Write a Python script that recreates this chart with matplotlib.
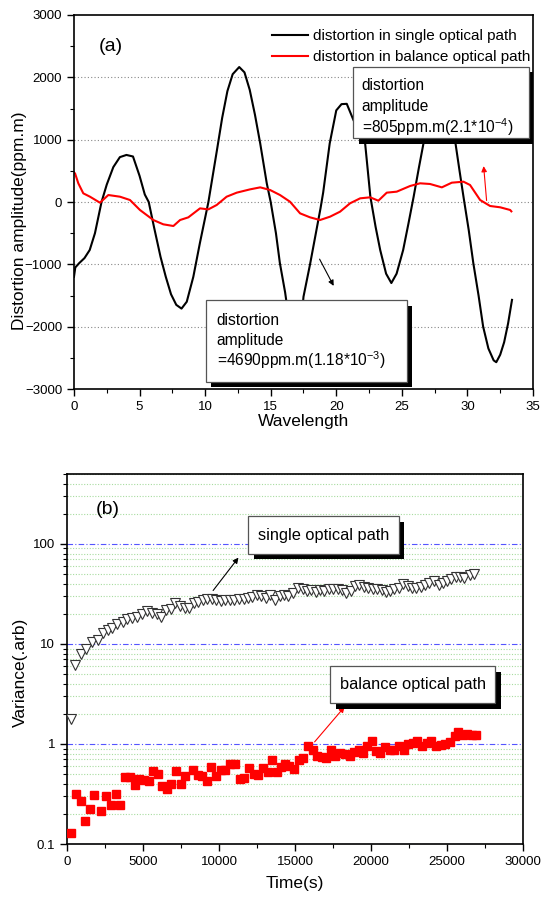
import numpy as np
import matplotlib
matplotlib.use("Agg")
import matplotlib.pyplot as plt
from matplotlib.patches import Rectangle
from matplotlib.ticker import MultipleLocator, LogLocator, NullFormatter, FixedLocator
import matplotlib.patheffects as pe

plt.rcParams['font.family'] = ['Liberation Sans', 'DejaVu Sans']
plt.rcParams['mathtext.fontset'] = 'custom'
plt.rcParams['mathtext.rm'] = 'Liberation Sans'

# ---- panel (a) data: distortion vs wavelength ----
single_x = [0.0, 0.1, 0.4, 0.8, 1.2, 1.6, 2.1, 2.5, 3.0, 3.5, 4.0, 4.5, 5.0, 5.4, 5.7,
            6.1, 6.6, 7.0, 7.4, 7.8, 8.2, 8.6, 9.1, 9.6, 10.25, 10.9, 11.3, 11.7, 12.1,
            12.6, 13.0, 13.4, 13.8, 14.2, 14.7, 15.0, 15.4, 15.7, 16.1, 16.5, 16.85,
            17.2, 17.5, 18.0, 18.8, 19.0, 19.5, 20.0, 20.4, 20.8, 21.3, 21.8, 22.2,
            22.6, 23.0, 23.35, 23.8, 24.2, 24.6, 25.1, 25.5, 25.9, 26.3, 26.65, 27.1,
            27.5, 27.85, 28.3, 28.7, 29.05, 29.4, 29.7, 30.1, 30.45, 30.85, 31.2, 31.6,
            32.0, 32.2, 32.5, 32.8, 33.1, 33.4]
single_y = [-1200, -1050, -980, -900, -770, -500, 0, 280, 560, 720, 755, 730, 420, 120, 0,
            -400, -880, -1200, -1480, -1650, -1710, -1600, -1200, -660, 0, 830, 1350, 1780, 2050,
            2165, 2080, 1800, 1400, 940, 300, 0, -500, -980, -1450, -2050, -2525,
            -2250, -1520, -1000, -100, 150, 940, 1470, 1570, 1575, 1320, 1100, 941,
            85, -400, -770, -1150, -1300, -1150, -770, -350, 85, 550, 940, 1250,
            1420, 1450, 1380, 1200, 1000, 500, 85, -450, -980, -1500, -2000, -2350,
            -2540, -2570, -2450, -2250, -1950, -1570]

balance_x = [0.0, 0.08, 0.33, 0.71, 1.22, 1.98, 2.62, 3.51, 4.27, 5.03, 6.05, 6.81, 7.58,
             8.09, 8.72, 9.61, 10.25, 10.88, 11.64, 12.41, 13.43, 14.2, 14.95, 15.71,
             16.47, 17.24, 18.0, 18.76, 19.53, 20.29, 21.05, 21.82, 22.58, 23.21, 23.85,
             24.61, 25.63, 26.39, 27.15, 28.05, 28.81, 29.7, 30.2, 30.97, 31.73, 32.5,
             33.26, 33.35]
balance_y = [470, 460, 300, 139, 85, -11, 112, 85, 32, -128, -289, -358, -385,
             -289, -246, -102, -118, -48, 85, 150, 203, 235, 193, 112,
             5, -182, -246, -289, -235, -155, -21, 59, 75, 21, 150,
             166, 257, 300, 289, 235, 310, 326, 273, 32, -64, -85,
             -128, -150]

# ---- panel (b) data: variance vs time ----
single_t = [254, 550, 900, 1250, 1660, 2010, 2350, 2680, 2970, 3320, 3670, 3970, 4290,
            4610, 4930, 5280, 5580, 5900, 6200, 6500, 6830, 7130, 7430, 7750, 8050, 8350,
            8620, 8920, 9220, 9550, 9820, 10120, 10420, 10700, 11000, 11300, 11620, 11900,
            12200, 12500, 12780, 13080, 13350, 13700, 14000, 14270, 14570, 14850, 15200,
            15500, 15770, 16070, 16350, 16650, 16930, 17250, 17530, 17800, 18080, 18360,
            18660, 18960, 19230, 19530, 19810, 20110, 20390, 20690, 20960, 21260, 21540,
            21840, 22110, 22410, 22690, 22990, 23270, 23570, 23840, 24140, 24440, 24720,
            25000, 25270, 25570, 25870, 26150, 26500, 26800]
single_var = [1.79, 6.2, 7.9, 8.8, 10.5, 10.9, 12.9, 13.8, 14.5, 15.8, 16.7, 17.7, 18.1,
              18.8, 20.0, 21.2, 20.4, 20.0, 18.8, 21.9, 22.3, 25.8, 24.2, 22.9, 22.9, 25.8,
              26.1, 27.8, 28.2, 28.4, 27.4, 26.7, 27.4, 27.4, 27.8, 28.2, 28.2, 28.9,
              29.6, 30.6, 30.1, 28.9, 30.6, 27.8, 30.1, 31.2, 30.1, 32.0, 36.6,
              35.2, 33.8, 34.7, 33.0, 34.7, 33.8, 35.8, 35.2, 35.8, 34.7, 32.5,
              33.8, 37.9, 38.6, 37.4, 36.6, 35.8, 35.2, 34.7, 33.0, 33.8, 35.2,
              36.6, 39.5, 37.9, 36.6, 36.6, 37.1, 38.6, 40.5, 42.7, 38.6, 41.0,
              42.7, 44.6, 47.1, 47.1, 46.1, 48.6, 49.8]

balance_t = [254, 600, 900, 1200, 1520, 1800, 2240, 2580, 2900, 3200, 3500, 3830, 4130,
             4450, 4750, 5070, 5370, 5670, 5970, 6270, 6570, 6870, 7170, 7470, 7770, 8300,
             8620, 8900, 9200, 9480, 9780, 10100, 10420, 10700, 11020, 11350, 11670, 11950,
             12270, 12590, 12890, 13190, 13470, 13790, 14110, 14340, 14620, 14940, 15240,
             15540, 15870, 16160, 16460, 16790, 17060, 17390, 17660, 17960, 18310, 18590,
             18890, 19230, 19460, 19740, 20040, 20320, 20620, 20940, 21240, 21540, 21810,
             22140, 22410, 22740, 23010, 23340, 23660, 23960, 24260, 24580, 24880, 25180,
             25500, 25690, 26030, 26330, 26660, 26930]
balance_var = [0.129, 0.318, 0.267, 0.171, 0.224, 0.307, 0.215, 0.30, 0.247, 0.319, 0.244,
               0.464, 0.468, 0.386, 0.447, 0.44, 0.423, 0.541, 0.5, 0.377, 0.355, 0.401,
               0.533, 0.398, 0.475, 0.554, 0.494, 0.475, 0.43, 0.584, 0.475, 0.554, 0.545,
               0.63, 0.636, 0.447, 0.457, 0.571, 0.505, 0.486, 0.575, 0.521, 0.697, 0.529,
               0.584, 0.636, 0.598, 0.562, 0.687, 0.73, 0.948, 0.878, 0.753, 0.741, 0.719,
               0.878, 0.765, 0.813, 0.794, 0.753, 0.826, 0.878, 0.813, 0.948, 1.06, 0.858,
               0.813, 0.926, 0.878, 0.865, 0.962, 0.878, 1.0, 1.02, 1.08, 0.962, 1.02, 1.06,
               0.948, 0.985, 1.01, 1.04, 1.19, 1.32, 1.22, 1.26, 1.24, 1.22]

shadow = [pe.SimplePatchShadow(offset=(4, -4), shadow_rgbFace='k', alpha=1.0), pe.Normal()]


def shadow_box(ax, x0, x1, y0, y1):
    r = Rectangle((x0, y0), x1 - x0, y1 - y0, facecolor='white', edgecolor='#555555',
                  lw=0.9, zorder=5, path_effects=shadow)
    ax.add_patch(r)


fig = plt.figure(figsize=(5.48, 8.98), dpi=100)

# ---------------- panel (a) ----------------
ax1 = fig.add_axes([0.135, 0.5668, 0.8376, 0.4165])
ax1.plot(single_x, single_y, color='black', lw=1.5, label='distortion in single optical path')
ax1.plot(balance_x, balance_y, color='red', lw=1.5, label='distortion in balance optical path')
ax1.set_xlim(0, 35)
ax1.set_ylim(-3000, 3000)
ax1.xaxis.set_major_locator(MultipleLocator(5))
ax1.xaxis.set_minor_locator(MultipleLocator(2.5))
ax1.yaxis.set_major_locator(MultipleLocator(1000))
ax1.yaxis.set_minor_locator(MultipleLocator(500))
for v in [-2000, -1000, 0, 1000, 2000]:
    ax1.axhline(v, color='#888888', lw=0.8, ls=(0, (1, 2)), zorder=0)
ax1.set_xlabel('Wavelength', fontsize=12.5, labelpad=1)
ax1.set_ylabel('Distortion amplitude(ppm.m)', fontsize=12.5)
ax1.yaxis.set_label_coords(-0.102, 0.45)
ax1.text(0.054, 0.916, '(a)', transform=ax1.transAxes, fontsize=14, va='center')
ax1.legend(loc='upper right', bbox_to_anchor=(0.9935, 0.962), frameon=False, fontsize=11,
           handlelength=2.35, handletextpad=0.3, labelspacing=0.45, borderaxespad=0,
           borderpad=0)

shadow_box(ax1, 21.3, 34.7, 1022, 2170)
ax1.text(21.95, 1877, 'distortion', fontsize=11.2, va='center', zorder=6)
ax1.text(21.95, 1540, 'amplitude', fontsize=11.2, va='center', zorder=6)
ax1.text(21.95, 1203, '=805ppm.m(2.1*10$^{-4}$)', fontsize=11.2, va='center', zorder=6)

shadow_box(ax1, 10.05, 25.38, -2883, -1572)
ax1.text(10.88, -1893, 'distortion', fontsize=11.2, va='center', zorder=6)
ax1.text(10.88, -2214, 'amplitude', fontsize=11.2, va='center', zorder=6)
ax1.text(10.88, -2535, '=4690ppm.m(1.18*10$^{-3}$)', fontsize=11.2, va='center', zorder=6)

ax1.annotate('', xy=(19.9, -1385), xytext=(18.63, -877),
             arrowprops=dict(arrowstyle='-|>', color='black', lw=0.8, mutation_scale=8))
ax1.annotate('', xy=(31.22, 620), xytext=(31.48, -21),
             arrowprops=dict(arrowstyle='-|>', color='red', lw=0.8, mutation_scale=8))

# ---------------- panel (b) ----------------
ax2 = fig.add_axes([0.1223, 0.0601, 0.8321, 0.4121])
ax2.plot(single_t, single_var, ls='none', marker='v', ms=7, mfc='white', mec='#333333',
         mew=0.8, zorder=3)
ax2.plot(balance_t, balance_var, ls='none', marker='s', ms=5.5, mfc='red', mec='red',
         zorder=3)
ax2.set_yscale('log')
ax2.set_xlim(0, 30000)
ax2.set_ylim(0.1, 500)
ax2.xaxis.set_major_locator(MultipleLocator(5000))
ax2.xaxis.set_minor_locator(MultipleLocator(2500))
ax2.yaxis.set_major_locator(FixedLocator([0.1, 1, 10, 100]))
ax2.yaxis.set_minor_locator(LogLocator(base=10, subs=np.arange(2, 10)))
ax2.yaxis.set_minor_formatter(NullFormatter())
ax2.set_yticklabels(['0.1', '1', '10', '100'])
ax2.grid(True, which='major', axis='y', color='#5555ff', lw=0.8, ls=(0, (5, 2, 1, 2)))
ax2.grid(True, which='minor', axis='y', color='#a8dca0', lw=0.8, ls=(0, (1, 1.5)))
ax2.set_axisbelow(True)
ax2.set_xlabel('Time(s)', fontsize=12.5, labelpad=6)
ax2.set_ylabel('Variance(.arb)', fontsize=12.5)
ax2.yaxis.set_label_coords(-0.086, 0.465)
ax2.text(0.064, 0.905, '(b)', transform=ax2.transAxes, fontsize=14, va='center')

shadow_box(ax2, 11920, 21820, 79.6, 188)
ax2.text(16870, 122, 'single optical path', fontsize=11.8, ha='center', va='center', zorder=6)
shadow_box(ax2, 17320, 28160, 2.57, 5.95)
ax2.text(22740, 3.9, 'balance optical path', fontsize=11.8, ha='center', va='center', zorder=6)

ax2.annotate('', xy=(11390, 76.7), xytext=(9500, 32.5),
             arrowprops=dict(arrowstyle='-|>', color='black', lw=0.8, mutation_scale=8))
ax2.annotate('', xy=(18380, 2.47), xytext=(16170, 1.0),
             arrowprops=dict(arrowstyle='-|>', color='red', lw=0.8, mutation_scale=8))

for ax in (ax1, ax2):
    ax.tick_params(which='major', direction='out', length=5, width=1, labelsize=9.5,
                   top=False, right=False)
    ax.tick_params(which='minor', direction='out', length=3, width=0.8,
                   top=False, right=False)
    for s in ax.spines.values():
        s.set_linewidth(1.2)

fig.savefig('out.png', dpi=100)
